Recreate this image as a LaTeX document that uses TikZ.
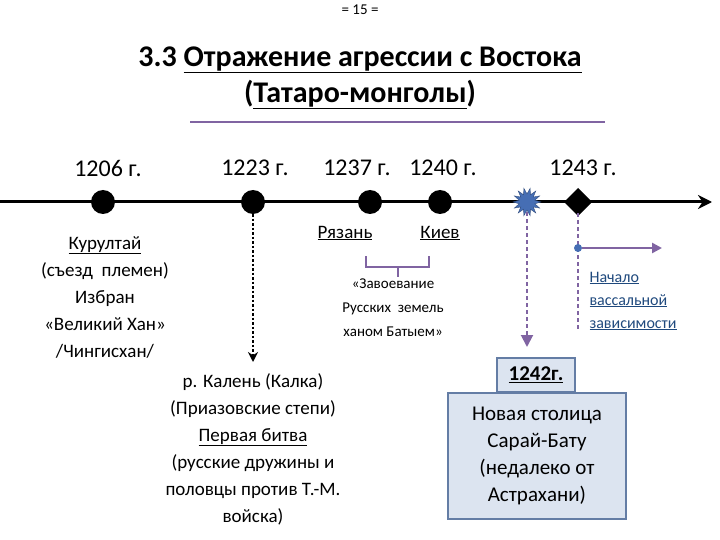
\documentclass[tikz,border=0pt]{standalone}
\usepackage{fontspec}
\setmainfont{Carlito}
\usetikzlibrary{arrows.meta}
\definecolor{purp}{RGB}{128,100,162}
\definecolor{boxfill}{RGB}{220,228,240}
\definecolor{boxline}{RGB}{100,125,165}
\definecolor{linkblue}{RGB}{31,73,125}
\definecolor{starblue}{RGB}{70,110,180}
\tikzset{
 dot/.style={circle,fill=black,minimum size=24pt,inner sep=0pt},
 yr/.style={font=\fontsize{24}{26}\selectfont},
 txt/.style={align=center,font=\fontsize{19}{27}\selectfont},
 small/.style={align=center,font=\fontsize{15}{24}\selectfont},
 pbox/.style={draw=boxline,line width=2pt,fill=boxfill}
}
\begin{document}
\begin{tikzpicture}[x=1pt,y=-1pt]
\useasboundingbox (0,0) rectangle (720,540);
\node (pg) at (360,10) {\fontsize{15}{16}\selectfont = 15 =};
\node[font=\bfseries\fontsize{30}{36}\selectfont,align=center] (title) at (360,78) {3.3 \underline{Отражение агрессии с Востока}\\(\underline{Татаро-монголы})};
\draw[purp,line width=1.5pt] (190,122) -- (605,122);
% timeline
\coordinate (ts) at (0,202); \coordinate (te) at (712,202);
\draw[line width=3pt,-{Stealth[length=14pt,width=14pt]}] (ts) -- (te);
\node[dot] (d1) at (103,202) {};
\node[dot] (d2) at (253,202) {};
\node[dot] (d3) at (370,202) {};
\node[dot] (d4) at (440,202) {};
\fill[starblue,draw=starblue!70!black] (527,202) +(0:14)
  \foreach \i in {1,...,27}{ -- +({\i*360/28}:{mod(\i,2)==1 ? 8 : 14}) } -- cycle;
\node[circle,minimum size=20pt,inner sep=0pt] (st) at (527,202) {};
\fill (578,188) -- (592,202) -- (578,216) -- (564,202) -- cycle;
\node[circle,minimum size=22pt,inner sep=0pt] (dm) at (578,202) {};
\node[yr] (y1) at (108,168) {1206 г.};
\node[yr] (y2) at (255,168) {1223 г.};
\node[yr] (y3) at (357,168) {1237 г.};
\node[yr] (y4) at (443,168) {1240 г.};
\node[yr] (y5) at (583,168) {1243 г.};
% left text
\node[txt] (kur) at (105,297) {\underline{Курултай}\\(съезд\ \ племен)\\Избран\\«Великий Хан»\\/Чингисхан/};
% Kalka
\coordinate (ka) at (253,362);
\draw[line width=2.5pt,dotted,-{Stealth[length=10pt,width=10pt]}] (d2) -- (ka);
\node[txt] (kal) at (253,449) {р. Калень (Калка)\\(Приазовские степи)\\\underline{Первая битва}\\(русские дружины и\\половцы против Т.-М.\\войска)};
% Ryazan Kiev
\node[font=\fontsize{19}{22}\selectfont] (rz) at (345,233) {\underline{Рязань}};
\node[font=\fontsize{19}{22}\selectfont] (kv) at (440,233) {\underline{Киев}};
\draw[purp,line width=2pt] (366,256) -- (366,267) -- (429,267) -- (429,256);
\draw[purp,line width=2pt] (398,267) -- (398,277);
\node[small] (zav) at (393,308) {«Завоевание\\Русских\ \ земель\\ханом Батыем»};
% 1242
\coordinate (s2) at (527,347);
\draw[purp,line width=2pt,dash pattern=on 4pt off 3pt,-{Triangle[length=12pt,width=12pt]}] (st) -- (s2);
\node[pbox,minimum width=178pt,minimum height=126pt] (big) at (537,456) {};
\node[pbox,minimum width=78pt,minimum height=34pt] (yr42) at (536,375) {};
\node[font=\bfseries\fontsize{21}{24}\selectfont] at (yr42) {\underline{1242г.}};
\node[font=\fontsize{21}{27}\selectfont,align=center] at (big) {Новая столица\\Сарай-Бату\\(недалеко от\\Астрахани)};
% vassal
\coordinate (vb) at (578,332);
\draw[purp,line width=2pt,dash pattern=on 4pt off 3pt] (dm) -- (vb);
\node[circle,fill=starblue,minimum size=8pt,inner sep=0pt] (vd) at (578,248) {};
\coordinate (va) at (662,248);
\draw[purp,line width=2.5pt,-{Triangle[length=10pt,width=10pt]}] (vd) -- (va);
\node[align=left,anchor=west,text=linkblue,font=\fontsize{16}{23}\selectfont] (nach) at (586,301) {\underline{Начало}\\\underline{вассальной}\\\underline{зависимости}};
\end{tikzpicture}
\end{document}
